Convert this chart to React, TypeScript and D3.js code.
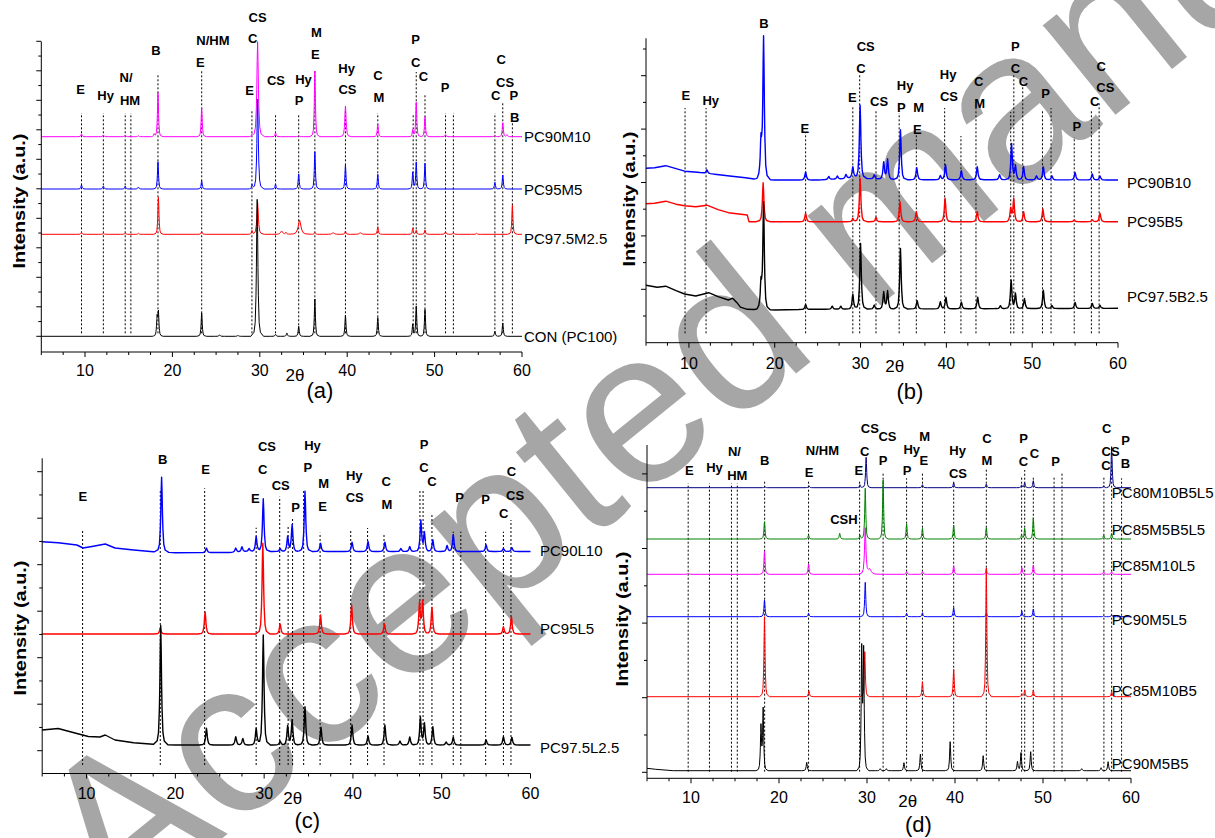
import React from "react";
import * as d3 from "d3";

type Pt = [number, number];
type Pk = number[]; // [2theta, height, widthFactor?]
type Lbl = [number, number, string];

// ---------------- shared ----------------
const xTickLabels = [10, 20, 30, 40, 50, 60];
const xMinorTicks = d3.range(5, 60.01, 2.5);
const watermarkText = "Accepted manuscript";
const yTitle = "Intensity (a.u.)";

// ---------------- panel (a) ----------------
const aLines: Pt[] = [[9.6,239],[12.1,239],[14.6,239],[15.25,239],[18.35,278],[23.35,281],[29.1,242],[31.8,237],[34.45,237],[36.3,282],[39.8,242],[43.5,239],[47.55,237],[47.9,280],[48.9,258],[51.25,239],[52.15,239],[56.9,239],[57.8,249],[58.9,230]];
const aLabels: Lbl[] = [[9.5,263,"E"],[12.36,257,"Hy"],[14.7,275,"N/"],[15.15,252,"HM"],[18.12,302,"B"],[24.64,312,"N/HM"],[23.2,290,"E"],[29.75,335,"CS"],[29.18,314,"C"],[28.82,262,"E"],[31.85,272,"CS"],[35.0,273,"Hy"],[34.49,252,"P"],[36.49,320,"M"],[36.35,298,"E"],[39.94,284,"Hy"],[40.03,263,"CS"],[43.52,277,"C"],[43.64,255,"M"],[47.83,313,"P"],[47.83,290,"C"],[48.71,276,"C"],[51.19,265,"P"],[57.63,293,"C"],[58.06,270,"CS"],[56.98,257,"C"],[59.08,257,"P"],[59.16,235,"B"]];
const aM10Base: Pt[] = [[5,215.3],[60,215.3]];
const aM10Peaks: Pk[] = [[9.6,2.7],[12.1,1.7],[14.6,1.7],[16.1,1],[17.9,2.7],[18.35,44],[23.35,29],[29.1,2],[29.75,95,1.4],[31.8,4],[34.45,1],[36.3,65.7],[39.8,30.7,1.2],[43.5,12.7],[47.5,6.7],[47.9,34.4],[48.9,20],[51.25,2],[56.9,1.5],[57.8,14],[58.3,2]];
const aM5Base: Pt[] = [[5,163],[60,163]];
const aM5Peaks: Pk[] = [[9.6,4],[12.1,3],[14.6,3],[16.1,2],[18.35,27.3],[23.35,8.3],[29.1,4],[29.75,90,1.3],[31.8,5],[34.45,15],[36.3,37.3],[39.8,24],[43.5,14.7],[47.5,16.7],[47.9,26.7],[48.9,25.7],[56.9,6.7],[57.8,14]];
const aM25Base: Pt[] = [[5,117.7],[60,117.7]];
const aM25Peaks: Pk[] = [[9.6,2],[12.1,1],[14.6,1.3],[16.1,1],[18.4,37],[23.35,2.7],[29.1,3.6],[29.75,31.7,1.4],[32.5,3.3,2],[33.0,2],[34.55,14.3,2.5],[36.3,2],[38.4,1.5,2],[39.8,3.3],[41.5,1.5,2],[43.5,7.6],[47.5,6],[47.9,4],[48.9,4.3],[51.25,2.7],[52.15,1.5],[54.8,1],[58.9,29]];
const aConBase: Pt[] = [[5,15.7],[60,15.7]];
const aConPeaks: Pk[] = [[18.25,18],[18.4,23],[23.35,23.3],[25.4,1.5],[27.5,1],[29.7,137,1.3],[31.8,2],[33.1,3.3],[34.45,10],[36.3,37.3],[39.8,21],[43.5,18.7],[47.5,12],[47.9,30],[48.9,27],[56.9,5],[57.8,13.3]];

// ---------------- panel (b) ----------------
const bLines: Pt[] = [[9.55,234.7],[12.0,234.7],[23.6,209.7],[29.1,236.7],[29.9,267.7],[31.8,232.7],[34.5,229.7],[36.5,207.7],[39.8,234.7],[41.7,206.7],[43.45,234.7],[47.5,230.7],[47.86,267.7],[48.9,257.7],[51.2,232.7],[52.2,234.7],[54.9,205.7],[56.9,232.7],[57.8,239.7]];
const bLabels: Lbl[] = [[18.75,319.7,"B"],[9.64,247.7,"E"],[12.54,242.7,"Hy"],[23.5,214.7,"E"],[30.6,296.7,"CS"],[30.06,274.7,"C"],[29.04,245.7,"E"],[32.16,241.7,"CS"],[35.19,257.7,"Hy"],[34.76,235.7,"P"],[36.76,235.7,"M"],[36.63,213.7,"E"],[40.2,268.7,"Hy"],[40.31,246.7,"CS"],[43.76,261.7,"C"],[43.89,239.7,"M"],[48.04,296.7,"P"],[48.04,274.7,"C"],[48.99,261.7,"C"],[51.57,249.7,"P"],[55.19,216.7,"P"],[58.03,276.7,"C"],[58.53,255.7,"CS"],[57.28,241.7,"C"]];
const bB10Base: Pt[] = [[5,174.5],[6,175],[7.3,177],[8.5,174],[9.5,171.5],[11,170.5],[13,168.5],[15,166.5],[16.6,165],[17.8,163.5],[20,162.7],[25,162.7],[28,164],[29,165],[31,164],[35,163],[45,163],[60,162.7]];
const bB10Peaks: Pk[] = [[12.1,3.5],[18.4,36],[18.7,141],[23.6,8],[26.3,3],[27.3,3],[28.3,4],[29.1,11],[29.95,73],[31.6,4],[32.7,17],[33.15,20],[34.65,50],[36.55,12],[39.3,4],[39.9,15],[41.75,9],[43.6,13],[46.2,5],[47.6,36],[48.05,14],[49.0,13],[50.5,4],[51.3,13],[52.3,4],[55.0,7.5],[57.0,6],[57.9,4]];
const bB5Base: Pt[] = [[5,139],[6,139.5],[7.3,141.5],[8.5,138.5],[9.5,137],[10.8,136],[12.1,137.5],[13.4,133],[14.6,130],[16.8,127.7],[17.0,121],[60,121]];
const bB5Peaks: Pk[] = [[18.65,39],[23.6,8.4],[29.1,3.4],[29.95,43.4],[31.8,4.4],[34.6,20],[36.5,10],[39.85,23.4],[43.6,10],[47.5,13.4],[47.85,22.7],[49.0,10],[51.25,12.7],[54.9,1.7],[57.0,2],[57.9,8.4]];
const bB25Base: Pt[] = [[5,57.5],[6.3,55.5],[7.3,56.5],[8.5,52],[9.5,48.7],[10.8,46.7],[12.3,50],[13.4,46],[14.6,42.7],[15.1,44.5],[15.6,40],[16.0,35.5],[16.8,33.4],[20,32.7],[25,33.5],[60,34.4]];
const bB25Peaks: Pk[] = [[18.4,25],[18.7,106],[23.6,5],[26.7,3],[27.7,3],[29.1,15],[30.0,65.6],[31.6,4],[32.7,17],[33.15,18],[34.65,60.6],[36.6,8.3],[39.3,7],[39.95,11.6],[41.75,6.6],[43.65,11.6],[46.3,3],[47.55,28.3],[48.05,15],[49.1,10],[51.3,18.3],[52.3,3],[55.0,6],[57.0,5],[57.9,3]];

// ---------------- panel (c) ----------------
const cLines: Pt[] = [[9.55,243.5],[18.3,282.8],[23.3,285.2],[29.1,245.8],[31.75,276.8],[32.7,246.8],[33.2,255.5],[34.45,283.5],[36.3,240.8],[39.75,242.5],[41.65,245.5],[43.5,240.5],[47.55,283.5],[47.9,283.5],[48.9,260.5],[51.3,241.8],[52.15,241.8],[54.95,241.8],[56.95,241.8],[57.8,253.5]];
const cLabels: Lbl[] = [[9.57,276.8,"E"],[18.57,314.2,"B"],[23.41,304.5,"E"],[30.31,327.5,"CS"],[29.84,304.2,"C"],[29.02,274.8,"E"],[31.87,288.2,"CS"],[33.55,265.8,"P"],[35.45,328.5,"Hy"],[34.93,306.2,"P"],[36.7,290.2,"M"],[36.57,266.8,"E"],[40.15,298.5,"Hy"],[40.2,276.2,"CS"],[43.74,292.5,"C"],[43.82,269.2,"M"],[48.0,329.5,"P"],[48.0,306.2,"C"],[48.91,291.8,"C"],[52.01,276.2,"P"],[54.95,274.2,"P"],[57.85,301.8,"C"],[58.27,277.8,"CS"],[56.98,260.2,"C"]];
const cL10Base: Pt[] = [[5,231.8],[6.8,230.8],[8.9,228.5],[9.6,225.5],[10.6,227],[12.1,229.5],[13.2,225.5],[15.3,223.5],[17.5,221.8],[20,220.8],[26,221],[28,222],[31,222],[60,222]];
const cL10Peaks: Pk[] = [[18.45,75],[23.5,4.4],[26.8,4],[27.5,5],[28.3,3],[29.1,15],[29.9,52.7],[31.8,3],[32.65,15],[33.15,26.7],[34.6,60.4],[36.35,8.4],[39.9,9.4],[41.7,10],[43.6,9.4],[45.4,3],[46.4,5],[47.65,31],[48.05,19],[49.0,11.7],[50.6,6],[51.3,17],[55.0,6.7],[56.95,3],[57.9,4]];
const cL5Base: Pt[] = [[5,139.5],[60,139.5]];
const cL5Peaks: Pk[] = [[18.3,6],[23.35,22],[29.85,90.7],[31.8,10],[36.35,19],[39.85,29],[43.55,10],[47.5,30.7],[47.85,32.3],[48.9,26.7],[56.95,7.3],[57.85,17.3]];
const cL25Base: Pt[] = [[5,43.5],[6.8,45],[8.9,40],[10.2,37],[11.5,36.5],[12.1,38.5],[13.2,33.5],[15.3,30.8],[17.5,29.2],[20,28.5],[60,28.5]];
const cL25Peaks: Pk[] = [[18.35,119],[23.5,16.7],[26.8,8.3],[27.6,6.6],[29.1,16.7],[29.9,110],[31.8,4],[32.65,19],[33.15,25],[34.6,38.3],[36.4,17.7],[39.9,20],[41.7,9],[43.6,20],[45.3,4],[46.4,8],[47.6,27.7],[48.05,21.7],[49.0,18.3],[50.5,3],[51.3,7.7],[55.0,5],[56.95,8.3],[57.9,7.7]];

// ---------------- panel (d) ----------------
const dLines: Pt[] = [[9.68,295],[12.1,295],[14.6,295],[15.26,295],[18.37,298.3],[23.36,298.3],[29.16,298.3],[31.83,306.6],[34.5,300],[36.3,306.6],[39.85,298.3],[43.56,310],[47.57,301.6],[47.92,308.3],[48.9,301.6],[51.26,301.6],[52.16,306.6],[56.92,301.6],[57.8,318.3],[58.93,300]];
const dLabels: Lbl[] = [[9.82,308.3,"E"],[12.67,311,"Hy"],[14.94,326.6,"N/"],[15.26,303.3,"HM"],[18.38,317.6,"B"],[24.93,328.3,"N/HM"],[23.41,305.6,"E"],[30.32,350,"CS"],[32.33,342.3,"CS"],[29.74,326.6,"C"],[29.07,308.3,"E"],[31.83,317.6,"P"],[35.09,329,"Hy"],[36.56,342.3,"M"],[36.47,318.3,"E"],[34.55,308.3,"P"],[40.3,328.3,"Hy"],[40.34,305,"CS"],[43.64,340,"C"],[43.64,318.3,"M"],[47.78,340,"P"],[47.78,316.6,"C"],[49.03,325,"C"],[51.44,316.6,"P"],[57.24,350,"C"],[57.68,326.6,"CS"],[57.15,313.3,"C"],[59.38,338.3,"P"],[59.38,315,"B"],[27.38,259,"CSH"]];
const dM10B5L5Base: Pt[] = [[5,290.6],[60,290.6]];
const dM10B5L5Peaks: Pk[] = [[18.4,1],[23.4,2],[29.2,3],[29.9,30.4],[36.3,3],[39.85,5],[43.56,3.7],[47.57,2.7],[47.92,5],[48.9,7],[56.9,2],[57.8,41]];
const dM5B5L5Base: Pt[] = [[5,239.3],[60,239.3]];
const dM5B5L5Peaks: Pk[] = [[18.35,17.3],[23.36,4],[26.9,5.7],[29.2,4],[29.8,50.7],[31.83,59],[34.5,15],[36.3,10.7],[39.85,14],[43.56,11.3],[47.57,4],[47.92,10.7],[48.9,21.3],[56.9,4],[57.8,5.7]];
const dM10L5Base: Pt[] = [[5,204],[60,204]];
const dM10L5Peaks: Pk[] = [[9.68,1],[18.35,23.3],[23.36,10.3],[29.8,46,1.3],[30.3,5,3],[34.5,2.7],[36.3,2.7],[39.85,8.6],[43.56,5],[47.6,6.7],[48.9,9.3],[56.9,2.7],[57.8,2.7]];
const dM5L5Base: Pt[] = [[5,161.6],[60,161.6]];
const dM5L5Peaks: Pk[] = [[18.35,16.7],[23.36,3.4],[29.8,34.4],[34.5,3.4],[36.3,4],[39.85,9],[43.56,4],[47.6,5.6],[48.9,7.7],[56.9,1],[57.8,1.7]];
const dM10B5Base: Pt[] = [[5,81.6],[60,81.6]];
const dM10B5Peaks: Pk[] = [[18.35,80],[23.4,6],[29.75,45],[36.3,15],[39.85,27.4],[43.56,128.7],[47.6,3],[47.92,6.7],[48.9,6.7],[57.8,5]];
const dM5B5Base: Pt[] = [[5,10],[6,9],[8,7.6],[60,7.6]];
const dM5B5Peaks: Pk[] = [[17.95,44],[18.2,61.4],[23.15,8.4],[29.4,119],[29.62,117],[31.5,2],[32.2,2],[34.2,8],[36.07,16.7],[39.45,29],[43.2,15],[47.1,9],[47.5,18],[48.6,19],[54.4,2],[56.6,3],[57.4,9]];

// ---------------- layout / style ----------------
const FONT = "Arial, 'Liberation Sans', Helvetica, sans-serif";
const KT = [0, 0.5, 1, 1.5, 2.5, 4, 8];
const KV = [1, 0.8, 0.5, 0.3, 0.1, 0.03, 0];
const kern = d3.scaleLinear().domain(KT).range(KV).clamp(true);

function buildTrace(base: Pt[], peaks: Pk[], w: number): Pt[] {
  const baseFn = d3.scaleLinear().domain(base.map((d) => d[0])).range(base.map((d) => d[1])).clamp(true);
  const xs = new Set<number>([5, 60]);
  base.forEach((d) => xs.add(d[0]));
  peaks.forEach((p) => {
    const pw = w * (p[2] ?? 1);
    KT.forEach((t) => { xs.add(p[0] + t * pw); xs.add(p[0] - t * pw); });
  });
  const sorted = [...xs].filter((x) => x >= 5 && x <= 60).sort((a, b) => a - b);
  return sorted.map((x) => [x, baseFn(x) + d3.sum(peaks, (p) => p[1] * kern(Math.abs(x - p[0]) / (w * (p[2] ?? 1))))] as Pt);
}

interface Series { name: string; color: string; base: Pt[]; peaks: Pk[]; dy: number; }
interface Panel {
  id: string; x0: number; x1: number; yTop: number; yBot: number;
  w: number; sw: number; lineBottom: number; lines: Pt[]; labels: Lbl[]; series: Series[];
  yTicks: number[]; majorParity: number; tickLabelDy: number;
  thetaPos: Pt; letterPos: Pt; titlePos: Pt; seriesLabelX: number;
}

const panels: Panel[] = [
  {
    id: "(a)", x0: 41.3, x1: 522, yTop: 41.7, yBot: 352, w: 0.07, sw: 1, lineBottom: 18.7,
    lines: aLines, labels: aLabels,
    series: [
      { name: "PC90M10", color: "#ff00ff", base: aM10Base, peaks: aM10Peaks, dy: 0 },
      { name: "PC95M5", color: "#0000ff", base: aM5Base, peaks: aM5Peaks, dy: 0 },
      { name: "PC97.5M2.5", color: "#ff0000", base: aM25Base, peaks: aM25Peaks, dy: 4 },
      { name: "CON (PC100)", color: "#000000", base: aConBase, peaks: aConPeaks, dy: 0 },
    ],
    yTicks: d3.range(0, 21).map((k) => 15.7 + 14.75 * k), majorParity: 0, tickLabelDy: 18,
    thetaPos: [295, 375], letterPos: [320, 390], titlePos: [19, 201], seriesLabelX: 524,
  },
  {
    id: "(b)", x0: 646, x1: 1118, yTop: 38.3, yBot: 342.7, w: 0.1, sw: 1.4, lineBottom: 9.4,
    lines: bLines, labels: bLabels,
    series: [
      { name: "PC90B10", color: "#0000ff", base: bB10Base, peaks: bB10Peaks, dy: 2 },
      { name: "PC95B5", color: "#ff0000", base: bB5Base, peaks: bB5Peaks, dy: 0 },
      { name: "PC97.5B2.5", color: "#000000", base: bB25Base, peaks: bB25Peaks, dy: -12 },
    ],
    yTicks: d3.range(1, 12).map((k) => 26.7 * k), majorParity: 1, tickLabelDy: 20.6,
    thetaPos: [894.8, 366.7], letterPos: [910, 391.7], titlePos: [629, 199], seriesLabelX: 1127,
  },
  {
    id: "(c)", x0: 42.2, x1: 530.5, yTop: 458.3, yBot: 773.5, w: 0.1, sw: 1.4, lineBottom: 8.5,
    lines: cLines, labels: cLabels,
    series: [
      { name: "PC90L10", color: "#0000ff", base: cL10Base, peaks: cL10Peaks, dy: -1 },
      { name: "PC95L5", color: "#ff0000", base: cL5Base, peaks: cL5Peaks, dy: -6 },
      { name: "PC97.5L2.5", color: "#000000", base: cL25Base, peaks: cL25Peaks, dy: 2 },
    ],
    yTicks: d3.range(0, 13).map((j) => 22.8 + 23.25 * j), majorParity: 0, tickLabelDy: 19.5,
    thetaPos: [292.8, 798.3], letterPos: [307.3, 820], titlePos: [20, 628], seriesLabelX: 540,
  },
  {
    id: "(d)", x0: 647, x1: 1131, yTop: 445, yBot: 778.3, w: 0.07, sw: 1, lineBottom: 6.6,
    lines: dLines, labels: dLabels,
    series: [
      { name: "PC80M10B5L5", color: "#000080", base: dM10B5L5Base, peaks: dM10B5L5Peaks, dy: 5 },
      { name: "PC85M5B5L5", color: "#008000", base: dM5B5L5Base, peaks: dM5B5L5Peaks, dy: -10 },
      { name: "PC85M10L5", color: "#ff00ff", base: dM10L5Base, peaks: dM10L5Peaks, dy: -9 },
      { name: "PC90M5L5", color: "#0000ff", base: dM5L5Base, peaks: dM5L5Peaks, dy: 3 },
      { name: "PC85M10B5", color: "#ff0000", base: dM10B5Base, peaks: dM10B5Peaks, dy: -6 },
      { name: "PC90M5B5", color: "#000000", base: dM5B5Base, peaks: dM5B5Peaks, dy: -7 },
    ],
    yTicks: d3.range(0, 9).map((k) => 6 + 37.3 * k), majorParity: 0, tickLabelDy: 18.7,
    thetaPos: [907.8, 801], letterPos: [918.4, 824], titlePos: [622, 619], seriesLabelX: 1111.8,
  },
];

function PanelView({ p }: { p: Panel }) {
  const x = d3.scaleLinear().domain([5, 60]).range([p.x0, p.x1]);
  const y = d3.scaleLinear().domain([0, p.yBot - p.yTop]).range([p.yBot, p.yTop]);
  const line = d3.line<Pt>().x((d) => x(d[0])).y((d) => y(d[1]));
  return (
    <g>
      {p.lines.map(([pos, top], i) => (
        <line key={"l" + i} x1={x(pos)} x2={x(pos)} y1={y(p.lineBottom)} y2={y(top)}
          stroke="#000" strokeWidth={1} strokeDasharray="2,2" />
      ))}
      {p.series.map((s) => (
        <path key={s.name} d={line(buildTrace(s.base, s.peaks, p.w)) || ""} fill="none"
          stroke={s.color} strokeWidth={p.sw} strokeLinejoin="round" />
      ))}
      {p.series.map((s) => (
        <text key={"t" + s.name} x={p.seriesLabelX} y={y(s.base[s.base.length - 1][1]) + s.dy}
          fontSize={15} fontFamily={FONT} dominantBaseline="central" fill="#000">{s.name}</text>
      ))}
      {p.labels.map(([pos, v, t], i) => (
        <text key={"p" + i} x={x(pos)} y={y(v)} fontSize={13} fontWeight="bold" fontFamily={FONT}
          textAnchor="middle" dominantBaseline="central" fill="#000">{t}</text>
      ))}
      <line x1={p.x0} x2={p.x1} y1={p.yBot} y2={p.yBot} stroke="#000" strokeWidth={1} />
      <line x1={p.x0} x2={p.x0} y1={p.yBot} y2={p.yTop} stroke="#000" strokeWidth={1} />
      {xMinorTicks.map((t) => (
        <line key={"xm" + t} x1={x(t)} x2={x(t)} y1={p.yBot} y2={p.yBot + (t % 10 === 0 ? 5 : 3)} stroke="#000" />
      ))}
      {xTickLabels.map((t) => (
        <text key={"xl" + t} x={x(t)} y={p.yBot + p.tickLabelDy} fontSize={16} fontFamily={FONT}
          textAnchor="middle" dominantBaseline="central">{t}</text>
      ))}
      {p.yTicks.map((v, i) => (
        <line key={"yt" + i} x1={p.x0} x2={p.x0 - (i % 2 === p.majorParity ? 5 : 3)} y1={y(v)} y2={y(v)} stroke="#000" />
      ))}
      <text x={p.thetaPos[0]} y={p.thetaPos[1]} fontSize={17} fontFamily={FONT} textAnchor="middle" dominantBaseline="central">2θ</text>
      <text x={p.letterPos[0]} y={p.letterPos[1]} fontSize={22} fontFamily={FONT} textAnchor="middle" dominantBaseline="central">{p.id}</text>
      <text transform={`translate(${p.titlePos[0]},${p.titlePos[1]}) rotate(-90)`} fontSize={17} fontWeight="bold"
        fontFamily={FONT} textAnchor="middle" dominantBaseline="central" textLength={135} lengthAdjust="spacingAndGlyphs">{yTitle}</text>
    </g>
  );
}

export default function App() {
  return (
    <svg width={1215} height={838} style={{ position: "absolute", left: 0, top: 0, background: "#fff" }}>
      <rect width={1215} height={838} fill="#fff" />
      <text transform="translate(115,925) rotate(-39)" fontSize={218} fontFamily={FONT} fill="#a6a6a6">{watermarkText}</text>
      {panels.map((p) => <PanelView key={p.id} p={p} />)}
    </svg>
  );
}
